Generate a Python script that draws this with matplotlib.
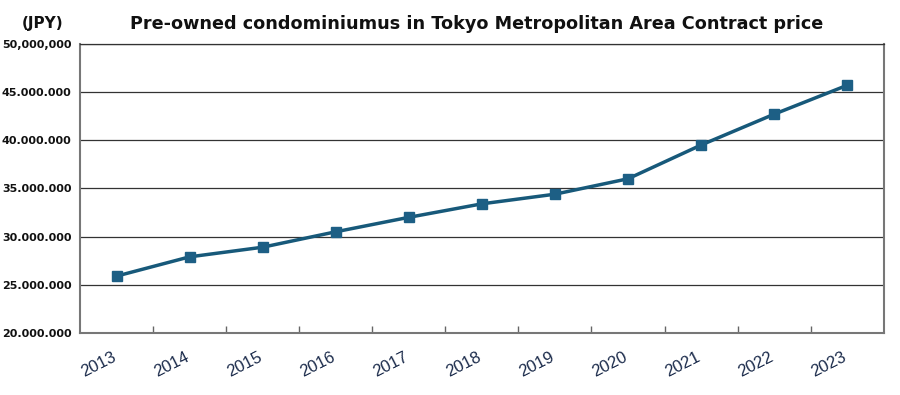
import matplotlib.pyplot as plt
import matplotlib.transforms as mtransforms
from matplotlib.ticker import FixedLocator

# Data
years = ["2013", "2014", "2015", "2016", "2017", "2018",
         "2019", "2020", "2021", "2022", "2023"]
prices = [25900000, 27900000, 28900000, 30500000, 32000000, 33400000,
          34400000, 36000000, 39500000, 42700000, 45700000]
y_ticks = [20000000, 25000000, 30000000, 35000000, 40000000, 45000000, 50000000]
y_labels = ["20.000.000", "25.000.000", "30.000.000", "35.000.000",
            "40.000.000", "45.000.000", "50,000,000"]

line_color = '#17597a'

fig = plt.figure(figsize=(9, 3.95), dpi=100)
ax = fig.add_axes([0.0889, 0.157, 0.893, 0.732])

x = list(range(len(years)))
ax.plot(x, prices, color=line_color, linewidth=2.5, marker='s',
        markersize=7, markerfacecolor='#1d5f85', markeredgecolor='#1d5f85')

ax.set_xlim(-0.5, len(years) - 0.5)
ax.set_ylim(20000000, 50000000)

ax.set_yticks(y_ticks)
ax.set_yticklabels(y_labels, fontsize=8, fontweight='bold', color='#111111')
ax.tick_params(axis='y', length=0, pad=6)
ax.yaxis.grid(True, color='#333333', linewidth=0.9)
ax.set_axisbelow(True)

# category labels at centers, tick marks at category boundaries
ax.set_xticks(x)
ax.set_xticklabels(years, rotation=27, fontsize=12, color='#1a2a4a',
                   family='Liberation Sans', ha='right', va='top',
                   rotation_mode='anchor')
ax.tick_params(axis='x', which='major', length=0, pad=12)
shift = mtransforms.ScaledTranslation(-5 / 100, 0, fig.dpi_scale_trans)
for lbl in ax.get_xticklabels():
    lbl.set_transform(lbl.get_transform() + shift)
ax.xaxis.set_minor_locator(FixedLocator([i + 0.5 for i in range(len(years) - 1)]))
ax.tick_params(axis='x', which='minor', direction='in', length=5,
               color='#666666', width=1)

for side in ['left', 'bottom', 'right']:
    ax.spines[side].set_color('#777777')
    ax.spines[side].set_linewidth(1.5)
ax.spines['top'].set_color('#333333')
ax.spines['top'].set_linewidth(0.9)

fig.text(0.53, 0.94, 'Pre-owned condominiumus in Tokyo Metropolitan Area Contract price',
         ha='center', va='center', fontsize=12.7, fontweight='bold', color='#111111')
fig.text(0.047, 0.94, '(JPY)', ha='center', va='center', fontsize=11,
         fontweight='bold', color='#111111')

fig.savefig('out.png', dpi=100)
